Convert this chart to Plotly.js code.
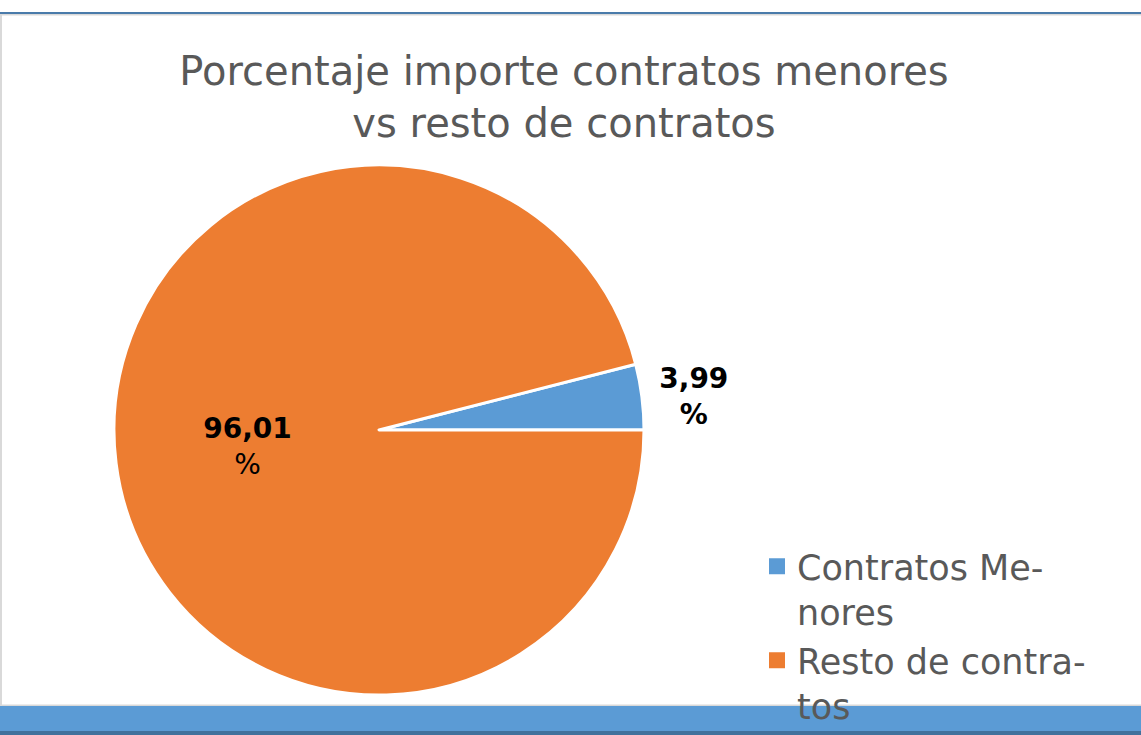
<!DOCTYPE html>
<html>
<head>
<meta charset="utf-8">
<script src="https://cdn.plot.ly/plotly-3.0.1.min.js"></script>
<style>
  html, body { margin: 0; padding: 0; background: #fff; }
  #chart { width: 1141px; height: 735px; }
</style>
</head>
<body>
<div id="chart"></div>
<script>
// categories (legend text keeps the hyphenated wrap of the original)
var categories = ['Contratos Me-<br>nores', 'Resto de contra-<br>tos'];
var shares = [3.99, 96.01];
var sliceColors = ['#5B9BD5', '#ED7D31'];

var W = 1141, H = 735;
function py(p) { return 1 - p / H; }
function px(x) { return x / W; }

var total = shares[0] + shares[1];

var pie = {
  type: 'pie',
  labels: categories,
  values: shares,
  sort: false,
  direction: 'clockwise',
  // first slice ends at 3 o'clock
  rotation: 90 - shares[0] / total * 360,
  marker: { colors: sliceColors, line: { color: '#ffffff', width: 3 } },
  textposition: ['outside', 'inside'],
  insidetextorientation: 'horizontal',
  texttemplate: ['<b>%{value:.2f}</b><br><b>%</b>', '<b>%{value:.2f}</b><br>%'],
  textfont: { family: 'DejaVu Sans', size: 28, color: '#000000' },
  hoverinfo: 'label+value',
  showlegend: false,
  domain: { x: [px(112), px(646)], y: [py(695), py(165)] }
};

// legend entries (bigger square swatches than the pie legend gives)
var legendTraces = categories.map(function (name, i) {
  return {
    type: 'scatter',
    mode: 'markers',
    x: [null], y: [null],
    name: name,
    marker: { symbol: 'square', size: 20, color: sliceColors[i], line: { width: 0 } },
    hoverinfo: 'skip'
  };
});

var layout = {
  width: W,
  height: H,
  margin: { l: 0, r: 0, t: 0, b: 0, autoexpand: false },
  paper_bgcolor: '#ffffff',
  plot_bgcolor: 'rgba(0,0,0,0)',
  separators: ',.',
  font: { family: 'DejaVu Sans', color: '#595959' },
  xaxis: { visible: false },
  yaxis: { visible: false },
  title: {
    text: 'Porcentaje importe contratos menores<br>vs resto de contratos',
    font: { family: 'DejaVu Sans', size: 40, color: '#595959' },
    x: px(564), xanchor: 'center',
    y: py(85), yanchor: 'top'
  },
  showlegend: true,
  legend: {
    x: px(757), xanchor: 'left',
    y: py(537), yanchor: 'top',
    valign: 'top',
    font: { family: 'DejaVu Sans', size: 35, color: '#595959' },
    bgcolor: 'rgba(0,0,0,0)',
    tracegroupgap: 0
  },
  shapes: [
    // top rule
    { type: 'rect', xref: 'paper', yref: 'paper', x0: 0, x1: 1, y0: py(14), y1: py(12),
      fillcolor: '#4A7BAA', line: { width: 0 }, layer: 'below' },
    { type: 'rect', xref: 'paper', yref: 'paper', x0: 0, x1: 1, y0: py(15.5), y1: py(14),
      fillcolor: '#D9D9D9', line: { width: 0 }, layer: 'below' },
    // left border
    { type: 'rect', xref: 'paper', yref: 'paper', x0: 0, x1: px(2), y0: py(706), y1: py(14),
      fillcolor: '#D9D9D9', line: { width: 0 }, layer: 'below' },
    // bottom band
    { type: 'rect', xref: 'paper', yref: 'paper', x0: 0, x1: 1, y0: py(706), y1: py(704.5),
      fillcolor: '#D9D9D9', line: { width: 0 }, layer: 'below' },
    { type: 'rect', xref: 'paper', yref: 'paper', x0: 0, x1: 1, y0: py(731), y1: py(706),
      fillcolor: '#5B9BD5', line: { width: 0 }, layer: 'below' },
    { type: 'rect', xref: 'paper', yref: 'paper', x0: 0, x1: 1, y0: 0, y1: py(731),
      fillcolor: '#41719C', line: { width: 0 }, layer: 'below' }
  ]
};

Plotly.newPlot('chart', [pie].concat(legendTraces), layout, { displayModeBar: false, staticPlot: true });
</script>
</body>
</html>
